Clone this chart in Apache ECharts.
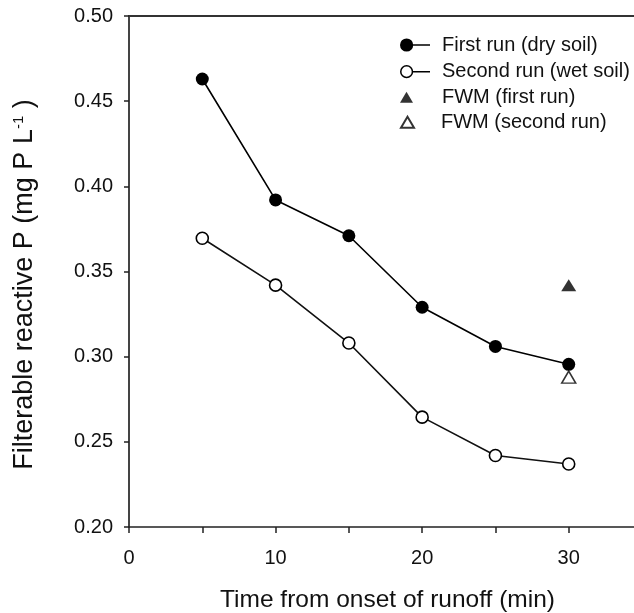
<!DOCTYPE html>
<html>
<head>
<meta charset="utf-8">
<script src="https://cdn.jsdelivr.net/npm/echarts@6/dist/echarts.min.js"></script>
<style>
  html, body { margin: 0; padding: 0; background: #fff; }
  #chart { width: 634px; height: 613px; }
</style>
</head>
<body>
<div id="chart"></div>
<script>
// ---- data ----
const times = [5, 10, 15, 20, 25, 30];
const firstRun = [0.463, 0.392, 0.371, 0.329, 0.306, 0.2955];
const secondRun = [0.3695, 0.342, 0.308, 0.2645, 0.242, 0.237];
const fwmTime = [30];
const fwmFirst = [0.342];
const fwmSecond = [0.288];
const xTickLabels = ['0', '10', '20', '30'];
const yTickLabels = ['0.20', '0.25', '0.30', '0.35', '0.40', '0.45', '0.50'];
const seriesNames = ['First run (dry soil)', 'Second run (wet soil)', 'FWM (first run)', 'FWM (second run)'];

const pairs = (xs, ys) => ys.map((y, i) => [xs[i], y]);
const FONT = '"Liberation Sans", Arial, Helvetica, sans-serif';

const filledIcon = 'path://M0.5,7 A6.5,6.5 0 1,1 13.5,7 A6.5,6.5 0 1,1 0.5,7 Z M12,6.3 L30,6.3 L30,7.7 L12,7.7 Z';
const openIcon = 'path://M0.5,7 A6.5,6.5 0 1,1 13.5,7 A6.5,6.5 0 1,1 0.5,7 Z M2,7 A5,5 0 1,0 12,7 A5,5 0 1,0 2,7 Z M13.3,6.3 L30,6.3 L30,7.7 L13.3,7.7 Z';

const legendBase = {
  orient: 'vertical', padding: 0, left: 400,
  textStyle: { fontFamily: FONT, fontSize: 20, color: '#111', lineHeight: 20 }
};

const chart = echarts.init(document.getElementById('chart'));
chart.setOption({
  animation: false,
  backgroundColor: '#fff',
  grid: { left: 129, top: 16, width: 513, height: 511, containLabel: false, outerBoundsMode: 'none' },
  legend: [
    Object.assign({}, legendBase, {
      top: 35, itemWidth: 30, itemHeight: 14,
      data: [{ name: seriesNames[0], icon: filledIcon }],
      itemStyle: { color: '#000', borderWidth: 0 },
      textStyle: Object.assign({}, legendBase.textStyle, { padding: [0, 0, 0, 7] })
    }),
    Object.assign({}, legendBase, {
      top: 61.7, itemWidth: 30, itemHeight: 14,
      data: [{ name: seriesNames[1], icon: openIcon }],
      itemStyle: { color: '#000', borderWidth: 0 },
      textStyle: Object.assign({}, legendBase.textStyle, { padding: [0, 0, 0, 7] })
    }),
    Object.assign({}, legendBase, {
      top: 87.3, itemWidth: 13, itemHeight: 11,
      data: [{ name: seriesNames[2], icon: 'triangle' }],
      textStyle: Object.assign({}, legendBase.textStyle, { padding: [0, 0, 0, 24] })
    }),
    Object.assign({}, legendBase, {
      top: 112.3, itemWidth: 13, itemHeight: 11,
      data: [{ name: seriesNames[3], icon: 'triangle' }],
      textStyle: Object.assign({}, legendBase.textStyle, { padding: [0, 0, 0, 22] })
    })
  ],
  xAxis: [
    {
      type: 'value', min: 0, max: 35, interval: 5, position: 'bottom',
      name: 'Time from onset of runoff (min)',
      nameLocation: 'middle', nameGap: 61,
      nameTextStyle: { fontFamily: FONT, fontSize: 24.5, color: '#111', padding: [0, 0, 0, 4] },
      axisLine: { show: true, onZero: false, lineStyle: { color: '#222', width: 1.5 } },
      axisTick: { show: true, inside: false, length: 6, lineStyle: { color: '#222', width: 1.5 } },
      axisLabel: {
        margin: 21, fontFamily: FONT, fontSize: 20, color: '#111',
        formatter: v => (v % 10 === 0 && xTickLabels.indexOf(String(v)) >= 0) ? String(v) : ''
      },
      splitLine: { show: false }
    },
    {
      type: 'value', min: 0, max: 35, position: 'top',
      axisLine: { show: true, onZero: false, lineStyle: { color: '#333', width: 2 } },
      axisTick: { show: false }, axisLabel: { show: false }, splitLine: { show: false }
    }
  ],
  yAxis: {
    type: 'value', min: 0.2, max: 0.5, interval: 0.05,
    name: '{a|Filterable reactive P (mg P L}{s|-1}{a| )}',
    nameLocation: 'middle', nameGap: 91,
    nameTextStyle: {
      padding: [0, 26, 0, 0],
      rich: {
        a: { fontFamily: FONT, fontSize: 27, color: '#111' },
        s: { fontFamily: FONT, fontSize: 15, color: '#111', verticalAlign: 'top', padding: [0, 0, 11, 0] }
      }
    },
    axisLine: { show: true, onZero: false, lineStyle: { color: '#444', width: 2 } },
    axisTick: { show: true, inside: false, length: 5, lineStyle: { color: '#222', width: 1.5 } },
    axisLabel: {
      margin: 16, fontFamily: FONT, fontSize: 20, color: '#111',
      formatter: v => yTickLabels.find(t => Math.abs(parseFloat(t) - v) < 1e-6) || ''
    },
    splitLine: { show: false }
  },
  series: [
    {
      name: seriesNames[0], type: 'line', data: pairs(times, firstRun),
      symbol: 'circle', symbolSize: 13,
      lineStyle: { color: '#000', width: 1.6 },
      itemStyle: { color: '#000', borderColor: '#000', borderWidth: 0 },
      z: 3
    },
    {
      name: seriesNames[1], type: 'line', data: pairs(times, secondRun),
      symbol: 'circle', symbolSize: 12,
      lineStyle: { color: '#111', width: 1.6 },
      itemStyle: { color: '#fff', borderColor: '#000', borderWidth: 1.6 },
      z: 3
    },
    {
      name: seriesNames[2], type: 'scatter', data: pairs(fwmTime, fwmFirst),
      symbol: 'triangle', symbolSize: [15, 12],
      itemStyle: { color: '#000' }, z: 4
    },
    {
      name: seriesNames[3], type: 'scatter', data: pairs(fwmTime, fwmSecond),
      symbol: 'triangle', symbolSize: [14, 12],
      itemStyle: { color: '#fff', borderColor: '#000', borderWidth: 1.5 }, z: 4
    }
  ]
});
</script>
</body>
</html>
